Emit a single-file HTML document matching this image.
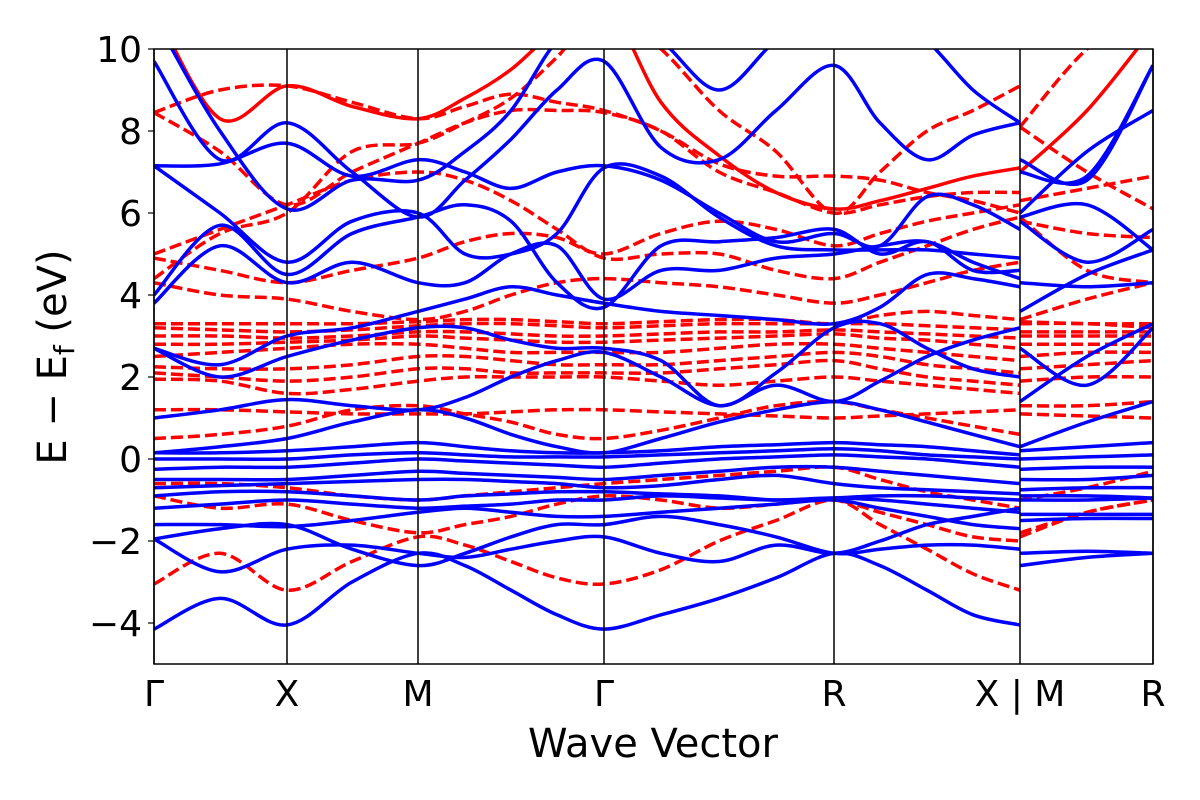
<!DOCTYPE html>
<html><head><meta charset="utf-8"><style>
html,body{margin:0;padding:0;background:#fff;width:1200px;height:800px;overflow:hidden}
svg text{font-family:"DejaVu Sans","Liberation Sans",sans-serif;fill:#000}
</style></head><body>
<svg id="chart" width="1200" height="800" xmlns="http://www.w3.org/2000/svg">
<defs><clipPath id="clip"><rect x="154" y="49" width="999" height="615"/></clipPath></defs>
<g id="bands" clip-path="url(#clip)"></g>
<g id="axes"></g>
</svg>
<script>
const kSamples=[0,0.66,1.33,1.98,2.64,3.11,3.57,4.03,4.5,5.07,5.65,6.22,6.8,7.26,7.73,8.19,8.66];
const kSamples2=[8.66,9.33,9.99];
const kTicks=[0,1.33,2.64,4.5,6.8,8.66,9.99];
const kLabels=["Γ","X","M","Γ","R","X | M","R"];
const yTicks=[-4,-2,0,2,4,6,8,10];
const yTickLabels=["−4","−2","0","2","4","6","8","10"];
const blueA=[
[-4.15,-3.4,-4.05,-3.0,-2.3,-2.6,-3.2,-3.8,-4.15,-3.8,-3.4,-2.9,-2.3,-2.6,-3.2,-3.8,-4.05],
[-1.95,-2.75,-2.2,-2.1,-2.3,-2.4,-2.2,-2.0,-1.9,-2.3,-2.5,-2.1,-2.3,-2.0,-1.6,-1.4,-1.2],
[-1.95,-1.7,-1.6,-2.2,-2.6,-2.3,-1.9,-1.6,-1.6,-1.4,-1.6,-1.9,-2.3,-2.2,-2.1,-2.1,-2.2],
[-1.6,-1.6,-1.65,-1.5,-1.3,-1.2,-1.3,-1.4,-1.4,-1.3,-1.2,-1.1,-1.0,-1.2,-1.4,-1.6,-1.7],
[-1.2,-1.1,-1.0,-1.1,-1.2,-1.15,-1.1,-1.0,-1.0,-0.9,-0.95,-1.0,-0.95,-1.0,-1.1,-1.2,-1.3],
[-0.9,-0.8,-0.8,-0.9,-1.0,-0.9,-0.85,-0.8,-0.8,-0.85,-0.9,-1.0,-0.95,-0.9,-0.9,-0.95,-1.0],
[-0.7,-0.65,-0.6,-0.55,-0.5,-0.5,-0.55,-0.6,-0.7,-0.65,-0.5,-0.4,-0.6,-0.7,-0.75,-0.8,-0.85],
[-0.5,-0.5,-0.5,-0.4,-0.3,-0.35,-0.4,-0.45,-0.5,-0.4,-0.3,-0.2,-0.2,-0.3,-0.4,-0.5,-0.6],
[-0.25,-0.2,-0.2,-0.1,0,-0.05,-0.1,-0.15,-0.2,-0.1,0,0.05,0.1,0.05,0,-0.1,-0.2],
[0,0,0,0.1,0.15,0.1,0.05,0.05,0.05,0.1,0.15,0.2,0.25,0.2,0.1,0.05,0],
[0.15,0.15,0.2,0.3,0.4,0.3,0.2,0.15,0.15,0.2,0.3,0.35,0.4,0.35,0.3,0.2,0.1],
[0.15,0.3,0.5,0.9,1.2,1.0,0.6,0.3,0.15,0.5,0.9,1.2,1.4,1.2,0.9,0.6,0.3],
[1.0,1.2,1.45,1.3,1.2,1.5,2.0,2.4,2.6,2.0,1.3,1.8,1.4,1.9,2.5,2.9,3.2],
[2.7,2.0,2.5,2.9,3.2,3.2,2.9,2.7,2.7,2.4,1.3,2.1,3.2,3.3,2.7,2.2,2.0],
[2.7,2.3,3.0,3.2,3.6,3.9,4.2,4.0,3.8,3.6,3.5,3.4,3.3,3.7,4.5,4.4,4.2],
[3.8,5.2,4.3,4.8,4.3,4.3,5.0,5.2,3.9,4.6,4.6,4.9,5.0,5.2,5.3,4.8,4.4],
[4.0,5.7,4.5,5.5,5.9,6.2,5.8,4.3,3.7,5.2,5.3,5.4,5.6,5.0,5.3,4.6,4.6],
[7.15,6.0,4.8,5.8,6.0,5.0,5.0,5.5,7.1,6.9,5.9,5.2,5.1,5.1,5.1,5.0,4.9],
[7.15,7.2,7.7,6.9,7.3,7.0,6.6,7.0,7.15,6.8,6.0,5.3,5.5,5.2,6.4,6.2,5.6],
[9.7,7.3,8.2,7.0,5.9,6.8,7.8,9.0,9.7,7.6,7.3,8.5,9.6,8.2,7.3,7.9,8.2],
[10.8,8.0,6.1,6.8,6.8,7.5,8.5,10.2,11,10.2,9.0,10.2,11,11,10.2,9.0,8.2]];
const blueB=[[-2.6,-2.4,-2.3],[-2.3,-2.25,-2.3],[-1.5,-1.45,-1.45],[-1.35,-1.35,-1.35],[-1.0,-1.0,-0.95],[-0.9,-0.9,-0.95],[-0.75,-0.7,-0.7],[-0.5,-0.5,-0.4],[-0.25,-0.2,-0.2],[0,0.05,0.1],[0.2,0.3,0.4],[0.3,0.9,1.4],[1.4,2.5,3.3],[2.7,1.8,3.2],[3.6,4.5,5.1],[4.3,4.2,4.3],[5.8,4.8,5.6],[5.9,6.2,5.1],[7.3,6.8,9.6],[7.0,6.9,9.6],[6.0,7.5,8.5]];
const redA=[
[-3.05,-2.3,-3.2,-2.5,-1.9,-2.1,-2.5,-2.9,-3.05,-2.7,-2.0,-1.5,-1.0,-1.6,-2.2,-2.8,-3.2],
[-0.9,-1.2,-1.1,-1.5,-1.8,-1.6,-1.4,-1.1,-0.9,-1.0,-1.2,-1.1,-1.0,-1.3,-1.6,-1.9,-2.0],
[-0.6,-0.6,-0.7,-0.9,-1.0,-0.9,-0.8,-0.7,-0.6,-0.5,-0.4,-0.3,-0.2,-0.5,-0.8,-1.0,-1.2],
[0.5,0.6,0.8,1.2,1.3,1.1,0.9,0.6,0.5,0.7,1.0,1.3,1.4,1.2,1.0,0.8,0.6],
[1.2,1.2,1.15,1.1,1.1,1.1,1.15,1.2,1.2,1.15,1.1,1.05,1.0,1.05,1.1,1.15,1.2],
[1.95,1.9,1.6,1.7,1.9,2.0,2.0,2.0,2.0,1.9,1.8,1.9,2.0,1.9,1.8,1.7,1.6],
[2.1,2.0,1.9,2.0,2.2,2.2,2.1,2.1,2.1,2.1,2.2,2.3,2.4,2.2,2.0,1.9,1.8],
[2.25,2.2,2.2,2.3,2.5,2.5,2.4,2.3,2.3,2.3,2.4,2.5,2.6,2.5,2.3,2.2,2.1],
[2.5,2.6,2.7,2.8,2.8,2.7,2.6,2.6,2.6,2.6,2.7,2.8,2.8,2.7,2.6,2.5,2.4],
[2.8,2.8,2.85,2.9,3.0,2.95,2.9,2.85,2.85,2.9,2.95,3.0,3.05,2.95,2.9,2.8,2.7],
[3.0,3.0,2.95,3.0,3.1,3.1,3.05,3.0,3.0,3.05,3.1,3.1,3.15,3.1,3.05,3.0,2.95],
[3.2,3.15,3.1,3.15,3.25,3.3,3.3,3.25,3.2,3.25,3.3,3.3,3.3,3.3,3.25,3.2,3.15],
[3.3,3.3,3.3,3.3,3.35,3.4,3.4,3.35,3.3,3.35,3.4,3.4,3.3,3.5,3.6,3.5,3.4],
[4.3,4.0,3.9,3.6,3.4,3.6,4.0,4.3,4.4,4.3,4.2,4.0,3.8,4.0,4.3,4.6,4.8],
[4.9,4.6,4.3,4.6,4.9,5.3,5.5,5.4,5.0,5.5,5.8,5.6,5.2,5.5,5.8,6.0,6.2],
[5.0,5.6,6.2,6.8,7.0,6.8,6.3,5.6,4.9,5.0,5.0,4.6,4.4,4.8,5.2,5.6,5.9],
[8.45,7.5,6.2,7.0,7.7,8.2,8.5,8.5,8.45,8.0,7.0,6.5,6.0,6.2,6.4,6.5,6.5],
[8.45,9.0,9.1,8.7,8.3,8.6,8.9,8.7,8.5,8.0,7.2,6.9,6.9,6.8,6.5,6.3,6.0],
[4.4,5.5,6.0,7.5,7.7,8.2,8.8,9.8,11,10,8.5,7.5,6.0,7.0,8.0,8.5,9.1]];
const redB=[[-1.9,-1.3,-1.0],[-1.8,-1.3,-1.0],[-1.0,-0.7,-0.3],[1.3,1.3,1.4],[1.1,1.05,1.0],[1.9,2.0,2.0],[2.2,2.3,2.4],[2.5,2.6,2.6],[2.8,2.8,2.8],[3.0,3.0,3.0],[3.1,3.1,3.1],[3.3,3.3,3.2],[3.35,3.3,3.3],[3.4,3.9,4.3],[5.8,5.5,5.4],[5.9,4.6,4.3],[6.3,6.6,6.9],[8.1,7.0,6.1],[8.1,10,11]];
const redSolidA=[[11,8.3,9.1,8.6,8.3,8.8,9.5,10.5,11.2,8.7,7.4,6.5,6.1,6.3,6.6,6.9,7.1]];
const redSolidB=[[7.0,8.5,10.5]];

const X0=154,X1=1153,Y0=49,Y1=664,kMin=0,kMax=9.99,eMin=-5,eMax=10;
const sx=k=>X0+(k-kMin)/(kMax-kMin)*(X1-X0);
const sy=e=>Y1-(e-eMin)/(eMax-eMin)*(Y1-Y0);
const NS="http://www.w3.org/2000/svg";
function smooth(ks,vs){
  const p=ks.map((k,i)=>[sx(k),sy(vs[i])]);
  let d="M"+p[0][0].toFixed(1)+","+p[0][1].toFixed(1);
  for(let i=0;i<p.length-1;i++){
    const a=p[Math.max(0,i-1)],b=p[i],c=p[i+1],e=p[Math.min(p.length-1,i+2)];
    const c1=[b[0]+(c[0]-a[0])/6,b[1]+(c[1]-a[1])/6],c2=[c[0]-(e[0]-b[0])/6,c[1]-(e[1]-b[1])/6];
    d+=" C"+c1.map(v=>v.toFixed(1))+" "+c2.map(v=>v.toFixed(1))+" "+c[0].toFixed(1)+","+c[1].toFixed(1);
  }
  return d;
}
const g=document.getElementById("bands");
function draw(set,ks,color,dash,name){
  set.forEach((vs,i)=>{
    const p=document.createElementNS(NS,"path");
    p.setAttribute("d",smooth(ks,vs));
    p.setAttribute("fill","none");p.setAttribute("stroke",color);p.setAttribute("stroke-width","3.5");
    if(dash)p.setAttribute("stroke-dasharray","12,5");
    
    
    g.appendChild(p);
  });
}
draw(redA,kSamples,"#ff0000",true,"spin-down-band");
draw(redB,kSamples2,"#ff0000",true,"spin-down-band-mr");
draw(redSolidA,kSamples,"#ff0000",false,"spin-down-solid-band");
draw(redSolidB,kSamples2,"#ff0000",false,"spin-down-solid-band-mr");
draw(blueA,kSamples,"#0000ff",false,"spin-up-band");
draw(blueB,kSamples2,"#0000ff",false,"spin-up-band-mr");

const ax=document.getElementById("axes");
function el(tag,attrs,text){const e=document.createElementNS(NS,tag);for(const a in attrs)e.setAttribute(a,attrs[a]);if(text!==undefined)e.textContent=text;ax.appendChild(e);return e;}
kTicks.forEach((k,i)=>{
  const l=el("line",{x1:sx(k),x2:sx(k),y1:Y0,y2:Y1,stroke:"#000","stroke-width":1.5});
  
  
  const t=el("text",{x:sx(k),y:706,"font-size":36,"text-anchor":"middle"},kLabels[i]);
  
  
});
yTicks.forEach((v,i)=>{
  const l=el("line",{x1:X0-6,x2:X0,y1:sy(v),y2:sy(v),stroke:"#000","stroke-width":1.2});
  
  
  const t=el("text",{x:X0-12,y:sy(v)+13,"font-size":36,"text-anchor":"end"},yTickLabels[i]);
  
  
});
const fr=el("rect",{x:X0,y:Y0,width:X1-X0,height:Y1-Y0,fill:"none",stroke:"#000","stroke-width":1.5});


const xt=el("text",{x:653,y:757,"font-size":40,"text-anchor":"middle"},"Wave Vector");


const yt=el("text",{x:0,y:0,"font-size":40,"text-anchor":"middle",transform:"translate(66,357) rotate(-90)"});
yt.innerHTML='E − E<tspan font-size="28" dy="8">f</tspan><tspan dy="-8"> (eV)</tspan>';


</script>
</body></html>
